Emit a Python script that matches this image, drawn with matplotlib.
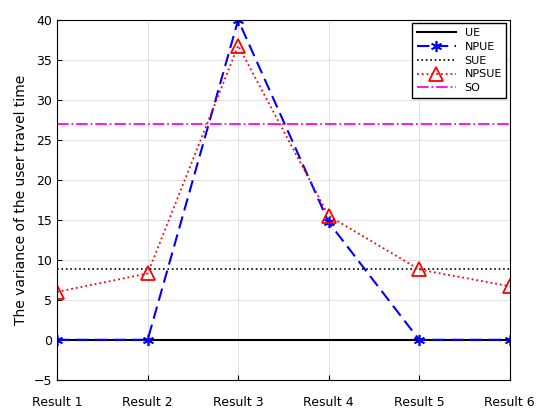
import matplotlib
matplotlib.use("Agg")
import matplotlib.pyplot as plt

labels = ["Result 1","Result 2","Result 3","Result 4","Result 5","Result 6"]
ue = [0,0,0,0,0,0]
npue = [0,0,40,14.7,0,0]
sue = [8.8]*6
npsue = [6.0,8.3,36.8,15.5,8.8,6.7]
so = [27]*6

fig = plt.figure(figsize=(5.44,4.16), dpi=100)
ax = fig.add_axes([0.105,0.087,0.832,0.865])
x = list(range(1,7))
ax.plot(x, ue, color='black', lw=1.5, label='UE')
ax.plot(x, npue, color='blue', ls=(0,(6,3)), lw=1.5, marker=(6,2,0), ms=8, mew=1.2, label='NPUE')
ax.plot(x, sue, color='black', ls=':', lw=1.2, label='SUE')
ax.plot(x, npsue, color='red', ls=':', lw=1.3, marker='^', ms=10, mfc='none', mew=1.3, label='NPSUE')
ax.plot(x, so, color='magenta', ls='-.', lw=1.3, label='SO')
ax.set_xlim(1,6); ax.set_ylim(-5,40)
ax.set_xticks(x); ax.set_xticklabels(labels)
ax.set_yticks(range(-5,41,5))
ax.grid(True, color='#dddddd', lw=0.6)
ax.set_ylabel('The variance of the user travel time', fontsize=10)
ax.tick_params(labelsize=9, direction='in')
ax.tick_params(axis='x', pad=12)
ax.legend(loc='upper right', fontsize=8, fancybox=False, edgecolor='black', framealpha=1,
          handlelength=3.5, borderaxespad=0.3, labelspacing=0.35)
fig.savefig('out.png', dpi=100)
